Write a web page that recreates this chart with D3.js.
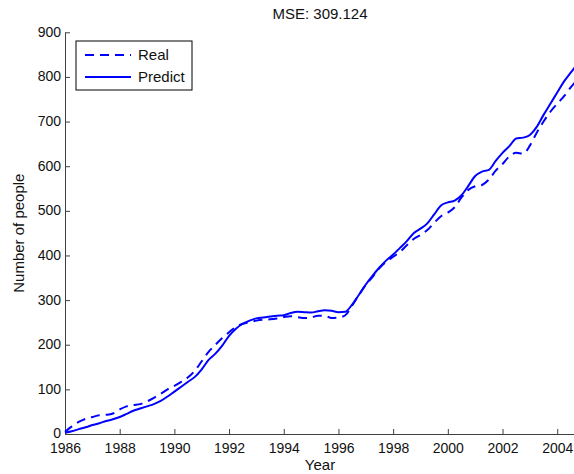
<!DOCTYPE html>
<html>
<head>
<meta charset="utf-8">
<script src="https://cdn.jsdelivr.net/npm/d3@7"></script>
<style>
 body { margin: 0; background: #fff; }
 text { font-family: Arial, "Liberation Sans", Helvetica, sans-serif; }
</style>
</head>
<body>
<script>
'use strict'
// Real vs predicted number of people, MATLAB-like line chart drawn with D3

// Data (quarterly steps)
let years = [1986, 1986.25, 1986.5, 1986.75, 1987, 1987.25, 1987.5, 1987.75,
 1988, 1988.25, 1988.5, 1988.75, 1989, 1989.25, 1989.5, 1989.75,
 1990, 1990.25, 1990.5, 1990.75, 1991, 1991.25, 1991.5, 1991.75,
 1992, 1992.25, 1992.5, 1992.75, 1993, 1993.25, 1993.5, 1993.75,
 1994, 1994.25, 1994.5, 1994.75, 1995, 1995.25, 1995.5, 1995.75,
 1996, 1996.25, 1996.5, 1996.75, 1997, 1997.25, 1997.5, 1997.75,
 1998, 1998.25, 1998.5, 1998.75, 1999, 1999.25, 1999.5, 1999.75,
 2000, 2000.25, 2000.5, 2000.75, 2001, 2001.25, 2001.5, 2001.75,
 2002, 2002.25, 2002.5, 2002.75, 2003, 2003.25, 2003.5, 2003.75,
 2004, 2004.25, 2004.5, 2004.65];

let realValues = [5, 17, 27, 34, 38, 42, 43, 46,
 55, 62, 65, 67, 73, 81, 90, 100,
 108, 117, 127, 142, 163, 184, 200, 215,
 228, 240, 247, 251, 254, 256, 257, 259,
 262, 264, 262, 260, 261, 265, 265, 260,
 261, 266, 288, 312, 334, 352, 372, 386,
 397, 408, 423, 437, 446, 457, 473, 488,
 496, 508, 530, 547, 555, 558, 570, 590,
 605, 622, 630, 628, 646, 675, 700, 722,
 740, 757, 777, 788];

let predictValues = [3, 6, 11, 15, 20, 24, 29, 33,
 38, 45, 52, 57, 62, 67, 74, 84,
 95, 106, 117, 128, 145, 166, 180, 198,
 220, 236, 247, 254, 259, 261, 263, 265,
 266, 271, 274, 273, 272, 275, 277, 276,
 273, 274, 290, 312, 335, 355, 373, 389,
 402, 417, 432, 450, 460, 472, 492, 512,
 519, 523, 535, 556, 578, 588, 592, 612,
 630, 645, 662, 664, 670, 688, 715, 740,
 765, 790, 810, 822];

let xTicks = [1986, 1988, 1990, 1992, 1994, 1996, 1998, 2000, 2002, 2004];
let yTicks = [0, 100, 200, 300, 400, 500, 600, 700, 800, 900];
let seriesNames = ["Real", "Predict"];

let width = 574, height = 474;
let plotLeft = 65, plotRight = 575, plotTop = 32.3, plotBottom = 434;
let axisColor = "#404040";

let svg = d3.select("body").append("svg")
 .attr("width", width)
 .attr("height", height);

// Scales
let x = d3.scaleLinear().domain([1986, 2004.65]).range([plotLeft, plotRight]);
let y = d3.scaleLinear().domain([0, 900]).range([plotBottom, plotTop]);

// Axes, ticks point inward like MATLAB
let xAxis = svg.append("g")
 .attr("transform", "translate(0," + plotBottom + ")")
 .call(d3.axisBottom(x).tickValues(xTicks).tickFormat(d3.format("d"))
 .tickSizeInner(-5).tickSizeOuter(0).tickPadding(9));

let yAxis = svg.append("g")
 .attr("transform", "translate(" + plotLeft + ",0)")
 .call(d3.axisLeft(y).tickValues(yTicks).tickFormat(d3.format("d"))
 .tickSizeInner(-5).tickSizeOuter(0).tickPadding(4));

[xAxis, yAxis].forEach(function (g) {
 g.select(".domain").attr("stroke", axisColor);
 g.selectAll(".tick line").attr("stroke", axisColor);
 g.selectAll(".tick text").attr("fill", "#111").style("font-size", "14px")
 .style("font-family", "Arial, 'Liberation Sans', Helvetica, sans-serif");
});
// the "0" label sits a touch higher so it clears "1986"
yAxis.selectAll(".tick text").attr("dy", "0.28em");

// Lines
let line = d3.line()
 .x(function (d) { return x(d[0]); })
 .y(function (d) { return y(d[1]); })
 .curve(d3.curveMonotoneX);

let realData = years.map(function (t, i) { return [t, realValues[i]]; });
let predictData = years.map(function (t, i) { return [t, predictValues[i]]; });

svg.append("path")
 .datum(realData)
 .attr("d", line)
 .attr("fill", "none")
 .attr("stroke", "#0000ff")
 .attr("stroke-width", 2)
 .attr("stroke-dasharray", "9,6");

svg.append("path")
 .datum(predictData)
 .attr("d", line)
 .attr("fill", "none")
 .attr("stroke", "#0000ff")
 .attr("stroke-width", 2);

// Title and axis labels
svg.append("text")
 .attr("x", (plotLeft + plotRight) / 2).attr("y", 19)
 .attr("text-anchor", "middle")
 .style("font-size", "15px").attr("fill", "#111")
 .text("MSE: 309.124");

svg.append("text")
 .attr("x", (plotLeft + plotRight) / 2).attr("y", 470)
 .attr("text-anchor", "middle")
 .style("font-size", "15px").attr("fill", "#111")
 .text("Year");

svg.append("text")
 .attr("transform", "translate(24," + (plotTop + plotBottom) / 2 + ") rotate(-90)")
 .attr("text-anchor", "middle")
 .style("font-size", "15px").attr("fill", "#111")
 .text("Number of people");

// Legend
let legend = svg.append("g");
legend.append("rect")
 .attr("x", 76).attr("y", 41).attr("width", 116).attr("height", 49)
 .attr("fill", "#fff").attr("stroke", "#000").attr("stroke-width", 1);

seriesNames.forEach(function (name, i) {
 let ly = 55 + i * 22;
 legend.append("line")
 .attr("x1", 85).attr("x2", 131).attr("y1", ly).attr("y2", ly)
 .attr("stroke", "#0000ff").attr("stroke-width", 2)
 .attr("stroke-dasharray", i === 0 ? "9,6" : null);
 legend.append("text")
 .attr("x", 138).attr("y", ly + 5)
 .style("font-size", "15px").attr("fill", "#111")
 .text(name);
});
</script>
</body>
</html>
